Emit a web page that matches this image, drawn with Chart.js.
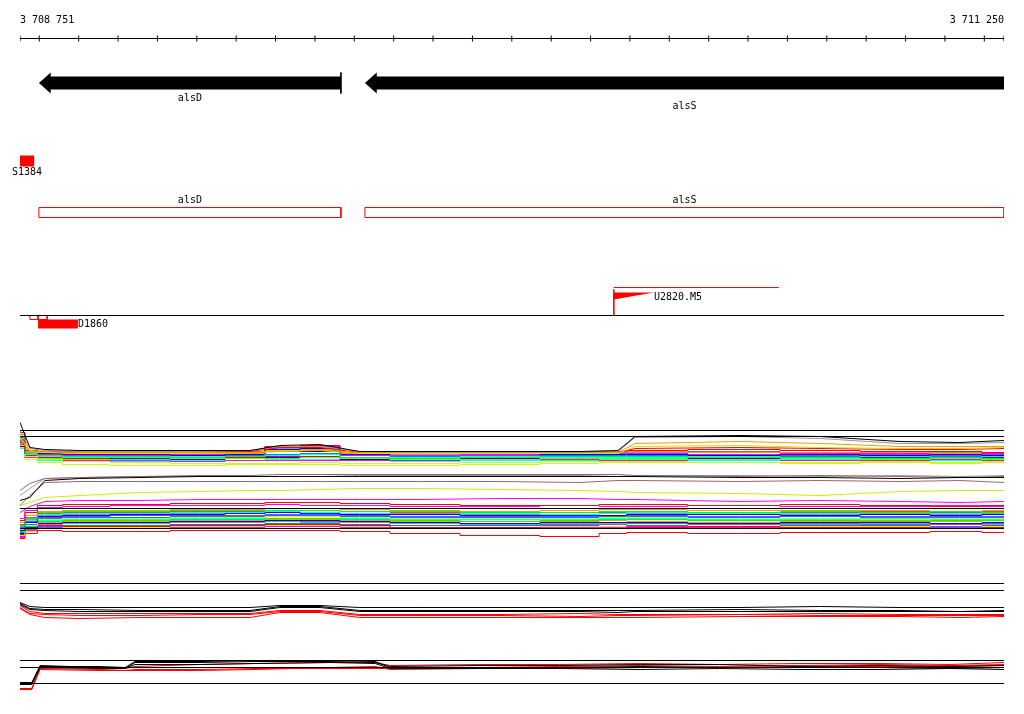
<!DOCTYPE html>
<html>
<head>
<meta charset="utf-8">
<script src="https://cdn.jsdelivr.net/npm/chart.js@4"></script>
<style>
  body { margin: 0; background: #fff; }
  canvas { display: block; }
</style>
</head>
<body>
<canvas id="browser" width="1024" height="714"></canvas>
<script>
// view window (bp)
const viewStart = 3708751;
const viewEnd = 3711250;
const rulerTicks = [3708751, 3708800, 3708900, 3709000, 3709100, 3709200, 3709300, 3709400, 3709500,
  3709600, 3709700, 3709800, 3709900, 3710000, 3710100, 3710200, 3710300, 3710400, 3710500,
  3710600, 3710700, 3710800, 3710900, 3711000, 3711100, 3711200, 3711250];

// genes (both on minus strand)
const geneNames = ['alsD', 'alsS'];
const geneStart = [3708799, 3709627];
const geneEnd = [3709566, 3711343];

// misc features
const siteName = 'S1384';
const siteRange = [3708751, 3708787];
const probeName = 'D1860';
const probeBoxes = [[3708776, 3708797], [3708797, 3708820]];
const probeBar = [3708797, 3708898];
const tuName = 'U2820.M5';
const tuStart = 3710259;
const tuEnd = 3710678;
const tuRampEnd = 3710361;

// expression tracks: probe positions
const gridA = [3708751, 3708776, 3708814, 3708903, 3709056, 3709208, 3709335, 3709411, 3709513, 3709614,
  3709767, 3709970, 3710173, 3710270, 3710313, 3710580, 3710783, 3710986, 3711138, 3711250];
const gridB = [3708751, 3708781, 3708802, 3708954, 3709018, 3709043, 3709208, 3709348, 3709538, 3709653,
  3709691, 3709919, 3710122, 3710326, 3710528, 3710732, 3710935, 3711113, 3711250];

// flat reference lines in the expression panels
const referenceRows = [430, 436, 508, 528, 583, 590, 660, 667, 683];

// panel 1 - highlighted profiles
const p1Black  = [422, 447, 449, 450, 450, 450, 450, 445, 444, 451, 451, 451, 451, 450, 436, 435, 436, 441, 442, 440];
const p1Grey   = [430, 448, 450, 451, 451, 451, 450, 446, 446, 451, 452, 452, 452, 451, 437, 436, 438, 443, 443, 442];
const p1Orange = [436, 450, 451, 452, 452, 452, 452, 451, 450, 452, 452, 452, 452, 452, 443, 441, 443, 446, 446, 446];
const p1Yellow = [438, 451, 452, 453, 453, 453, 452, 450, 450, 453, 453, 453, 453, 453, 446, 445, 447, 448, 448, 447];
const p1Red    = [440, 451, 451, 452, 452, 452, 451, 447, 447, 452, 452, 452, 452, 452, 448, 447, 448, 449, 449, 448];

// panel 1 - bulk profiles
const p1Colors = ['#ff0000', '#00ff00', '#0000ff', '#00ffff', '#ff00ff', '#ccff00', '#ff9900', '#996666', '#999999',
  '#0080ff', '#9933ff', '#66ff00', '#ff00ff', '#ccff00', '#ff0000', '#0000ff', '#00ffff', '#000000'];
const p1Mass = [
  [432, 450, 451, 451, 452, 451, 451, 446, 445, 452, 452, 451, 452, 451, 450, 449, 450, 451, 451, 452],
  [434, 453, 455, 456, 456, 457, 456, 451, 450, 457, 458, 457, 456, 456, 456, 457, 457, 458, 457, 458],
  [436, 453, 453, 454, 454, 455, 454, 449, 448, 454, 453, 453, 454, 454, 454, 455, 454, 455, 454, 455],
  [438, 454, 456, 457, 457, 456, 456, 455, 454, 457, 457, 456, 457, 457, 457, 456, 457, 456, 457, 456],
  [440, 453, 454, 455, 455, 454, 454, 447, 446, 455, 455, 455, 453, 453, 453, 454, 453, 453, 454, 453],
  [445, 456, 459, 461, 462, 463, 463, 463, 462, 463, 463, 462, 461, 461, 461, 462, 462, 461, 462, 461],
  [441, 451, 452, 453, 453, 453, 453, 450, 449, 453, 453, 452, 452, 451, 451, 452, 452, 452, 453, 452],
  [434, 451, 452, 452, 452, 452, 452, 446, 445, 452, 452, 452, 451, 451, 451, 451, 452, 452, 451, 452],
  [436, 452, 453, 453, 453, 452, 452, 448, 447, 453, 454, 453, 452, 452, 452, 452, 453, 452, 452, 453],
  [442, 453, 455, 456, 455, 456, 455, 454, 453, 455, 456, 455, 455, 455, 455, 455, 456, 455, 456, 455],
  [439, 452, 454, 454, 454, 455, 454, 450, 449, 454, 455, 454, 454, 453, 453, 454, 455, 454, 455, 454],
  [443, 456, 458, 459, 459, 458, 458, 458, 457, 458, 459, 459, 458, 458, 458, 459, 458, 459, 458, 459],
  [444, 457, 459, 460, 460, 461, 460, 460, 460, 460, 460, 459, 459, 460, 460, 459, 460, 460, 459, 460],
  [447, 459, 462, 464, 465, 465, 464, 464, 464, 465, 465, 464, 463, 462, 462, 462, 463, 462, 463, 462],
  [437, 455, 457, 458, 457, 458, 457, 456, 456, 457, 458, 457, 458, 457, 457, 456, 457, 458, 457, 458],
  [446, 456, 457, 458, 458, 459, 458, 457, 457, 459, 458, 458, 457, 457, 457, 458, 458, 457, 458, 457],
  [448, 457, 460, 461, 461, 460, 460, 459, 459, 460, 461, 460, 460, 459, 459, 460, 459, 460, 460, 460],
  [448, 450, 451, 451, 451, 451, 451, 451, 451, 452, 452, 452, 452, 452, 452, 452, 452, 452, 452, 452]
];

// panel 2 - highlighted profiles
const p2Black   = [500, 497, 480, 478, 477, 476, 476, 476, 476, 476, 476, 476, 476, 476, 476, 477, 477, 478, 477, 477];
const p2Brown   = [490, 483, 478, 477, 476, 475, 475, 474, 474, 474, 474, 474, 474, 474, 475, 476, 475, 476, 477, 476];
const p2Brown2  = [505, 495, 482, 481, 481, 481, 481, 481, 481, 481, 481, 481, 482, 480, 480, 481, 480, 481, 480, 482];
const p2Grey    = [495, 488, 478, 477, 476, 476, 476, 476, 476, 475, 475, 475, 475, 476, 475, 475, 476, 475, 476, 475];
const p2Yellow  = [505, 502, 497, 495, 492, 491, 490, 490, 489, 488, 488, 489, 490, 491, 492, 493, 495, 491, 490, 490];
const p2Magenta = [512, 506, 501, 500, 500, 499, 499, 499, 499, 499, 499, 498, 498, 499, 499, 501, 500, 501, 502, 501];

// panel 2 - bulk profiles
const p2Colors = ['#ff0000', '#00ff00', '#0000ff', '#00ffff', '#ff00ff', '#ccff00', '#ff9900', '#996666', '#999999',
  '#0080ff', '#9933ff', '#ff0000', '#00ff00', '#0000ff', '#00ffff', '#ff00ff', '#ff9900', '#ff0000',
  '#ccff00', '#999999', '#996666', '#0080ff', '#ff00ff'];
const p2Mass = [
  [520, 512, 505, 504, 504, 503, 503, 502, 502, 503, 504, 505, 505, 504, 504, 505, 504, 505, 506, 505],
  [525, 518, 512, 511, 511, 510, 510, 510, 510, 511, 511, 512, 512, 511, 511, 512, 511, 512, 511, 512],
  [530, 522, 516, 515, 514, 514, 513, 512, 513, 514, 514, 515, 515, 515, 514, 514, 515, 514, 515, 514],
  [528, 520, 514, 513, 513, 512, 512, 511, 512, 513, 514, 513, 514, 513, 512, 513, 513, 514, 513, 512],
  [518, 510, 507, 506, 505, 505, 505, 504, 505, 505, 506, 506, 505, 506, 506, 505, 506, 506, 505, 506],
  [535, 525, 519, 518, 518, 517, 517, 516, 516, 517, 518, 518, 518, 517, 517, 518, 518, 519, 518, 518],
  [522, 515, 511, 510, 510, 509, 509, 508, 508, 509, 510, 511, 510, 509, 509, 510, 510, 510, 511, 510],
  [524, 517, 513, 512, 512, 511, 511, 510, 510, 511, 512, 513, 512, 512, 511, 512, 512, 511, 512, 511],
  [526, 519, 515, 514, 513, 513, 513, 512, 512, 513, 513, 514, 514, 513, 513, 514, 514, 513, 514, 513],
  [532, 524, 518, 517, 517, 516, 516, 515, 515, 516, 517, 517, 517, 516, 516, 517, 516, 517, 516, 517],
  [527, 521, 517, 516, 515, 515, 515, 514, 514, 515, 516, 516, 516, 515, 515, 516, 515, 516, 517, 516],
  [534, 528, 525, 526, 526, 525, 525, 524, 524, 525, 527, 527, 528, 528, 527, 526, 527, 527, 528, 527],
  [531, 526, 521, 520, 520, 519, 519, 518, 518, 519, 520, 521, 520, 519, 519, 520, 520, 521, 520, 520],
  [533, 527, 523, 522, 522, 521, 521, 520, 520, 521, 522, 523, 522, 522, 522, 523, 522, 522, 523, 522],
  [529, 524, 520, 519, 519, 518, 518, 518, 518, 518, 519, 519, 519, 518, 518, 519, 519, 518, 519, 519],
  [536, 530, 527, 528, 528, 527, 527, 526, 526, 527, 528, 528, 527, 527, 526, 527, 528, 527, 527, 528],
  [530, 525, 522, 521, 521, 520, 520, 519, 519, 520, 521, 521, 521, 520, 521, 522, 521, 520, 521, 520],
  [538, 533, 530, 531, 531, 530, 530, 530, 530, 531, 533, 535, 536, 533, 532, 533, 532, 532, 531, 532],
  [536, 531, 528, 527, 527, 526, 526, 525, 525, 526, 527, 527, 526, 526, 526, 527, 526, 526, 527, 526],
  [532, 527, 524, 523, 523, 522, 522, 521, 522, 522, 523, 524, 523, 523, 522, 523, 524, 523, 523, 524],
  [534, 529, 523, 523, 522, 522, 522, 521, 521, 522, 523, 523, 524, 524, 523, 524, 523, 524, 524, 523],
  [535, 530, 526, 525, 525, 524, 524, 523, 523, 524, 525, 525, 525, 524, 525, 526, 525, 525, 526, 525],
  [537, 531, 524, 525, 526, 526, 526, 525, 525, 525, 527, 527, 528, 527, 528, 528, 528, 528, 527, 528]
];

// panel 3 (gridA)
const p3Colors = ['#000000', '#000000', '#000000', '#ff0000', '#ff0000', '#ff0000'];
const p3Lines = [
  [602, 606, 607, 607, 607, 607, 607, 605, 605, 607, 607, 607, 607, 607, 607, 607, 606, 607, 607, 607],
  [603, 608, 609, 609, 610, 610, 610, 606, 606, 610, 610, 610, 610, 610, 610, 609, 610, 610, 611, 610],
  [604, 609, 610, 611, 611, 611, 611, 607, 607, 611, 611, 611, 611, 612, 611, 611, 611, 611, 611, 611],
  [605, 611, 613, 613, 613, 613, 613, 610, 610, 614, 614, 614, 613, 614, 614, 614, 613, 614, 614, 614],
  [607, 613, 614, 615, 615, 614, 614, 611, 611, 615, 615, 615, 616, 615, 615, 614, 615, 615, 615, 615],
  [608, 614, 617, 618, 617, 617, 617, 612, 612, 617, 617, 617, 617, 617, 617, 616, 616, 616, 617, 616]
];

// panel 4 (gridB)
const p4Colors = ['#000000', '#000000', '#000000', '#ff0000', '#ff0000', '#ff0000'];
const p4Lines = [
  [683, 683, 666, 666, 667, 661, 661, 660, 660, 661, 667, 667, 667, 666, 667, 667, 667, 668, 667],
  [682, 682, 665, 667, 668, 662, 662, 661, 661, 662, 666, 665, 665, 664, 664, 666, 665, 666, 665],
  [684, 684, 667, 668, 668, 664, 664, 663, 662, 663, 668, 668, 668, 669, 668, 669, 669, 668, 669],
  [688, 688, 667, 667, 668, 666, 664, 663, 662, 662, 665, 664, 664, 663, 664, 663, 663, 664, 662],
  [689, 689, 668, 669, 670, 669, 669, 668, 668, 668, 668, 667, 666, 665, 666, 665, 664, 665, 664],
  [688, 688, 669, 670, 670, 670, 670, 669, 667, 666, 669, 668, 668, 667, 667, 666, 666, 666, 665]
];

// ---- layout (rows in canvas units) ----
const ROW = {
  ruler: 38, rulerText: 20,
  geneMid: 82.5, geneHalf: 6.5, headHalf: 10.5, headLen: 30,
  geneLabel: [98, 106],
  siteTop: 155, siteBottom: 166, siteLabel: 172,
  boxTop: 207, boxBottom: 217, boxLabel: 200,
  tuLine: 287, tuRampTop: 292, tuRampBottom: 299, featureLine: 315,
  probeBoxBottom: 319, probeBarBottom: 328, probeLabel: 324
};

const pts = (vals, grid) => vals.map((v, i) => ({x: grid[i], y: v}));
const rect = (x0, x1, y0, y1) => [{x: x0, y: y0}, {x: x1, y: y0}, {x: x1, y: y1}, {x: x0, y: y1}, {x: x0, y: y0}];
const clampEnd = v => Math.min(v, viewEnd);
const fmt = n => String(n).replace(/\B(?=(\d{3})+(?!\d))/g, ' ');

const datasets = [];
const line = (data, color, extra) => datasets.push(Object.assign({
  data, borderColor: color, backgroundColor: color, borderWidth: 1, pointRadius: 0, fill: false, tension: 0
}, extra || {}));

// ruler
line([{x: viewStart, y: ROW.ruler}, {x: viewEnd, y: ROW.ruler}], '#000');
line(rulerTicks.map(t => ({x: t, y: ROW.ruler})), '#000', {showLine: false, pointStyle: 'line', pointRadius: 3, rotation: 90, pointBorderWidth: 1});

// gene arrows (minus strand: tip at start)
geneNames.forEach((g, i) => {
  const s = geneStart[i], e = geneEnd[i], m = ROW.geneMid, h = ROW.geneHalf, hh = ROW.headHalf, hl = s + ROW.headLen;
  line([{x: s, y: m}, {x: hl, y: m - hh}, {x: hl, y: m - h}, {x: e, y: m - h}, {x: e, y: m + h},
        {x: hl, y: m + h}, {x: hl, y: m + hh}, {x: s, y: m}], '#000', {fill: 'shape', borderWidth: 0});
  line([{x: e, y: m - hh}, {x: e, y: m + hh}], '#000');
  // gene boxes
  line(rect(s, clampEnd(e), ROW.boxTop, ROW.boxBottom), '#ff0000');
});

// site
line(rect(siteRange[0], siteRange[1], ROW.siteTop, ROW.siteBottom), '#ff0000', {fill: 'shape', borderWidth: 0});

// transcription unit
line([{x: tuStart, y: ROW.tuLine}, {x: tuEnd, y: ROW.tuLine}], '#ff0000');
line([{x: tuStart, y: ROW.tuLine + 2}, {x: tuStart, y: ROW.featureLine}], '#ff0000');
line([{x: tuStart, y: ROW.tuRampTop}, {x: tuRampEnd, y: ROW.tuRampTop}, {x: tuStart, y: ROW.tuRampBottom}, {x: tuStart, y: ROW.tuRampTop}],
  '#ff0000', {fill: 'shape', borderWidth: 0});

// feature baseline + probes
line([{x: viewStart, y: ROW.featureLine}, {x: viewEnd, y: ROW.featureLine}], '#000');
probeBoxes.forEach(b => line(rect(b[0], b[1], ROW.featureLine, ROW.probeBoxBottom), '#ff0000'));
line(rect(probeBar[0], probeBar[1], ROW.probeBoxBottom, ROW.probeBarBottom), '#ff0000', {fill: 'shape', borderWidth: 0});

// reference lines
referenceRows.forEach(r => line([{x: viewStart, y: r}, {x: viewEnd, y: r}], '#000'));

// panel 1
line(pts(p1Black, gridA), '#000');
line(pts(p1Grey, gridA), '#999999');
line(pts(p1Orange, gridA), '#ff9900');
line(pts(p1Yellow, gridA), '#dddd00');
line(pts(p1Red, gridA), '#ff0000');
p1Mass.forEach((v, i) => line(pts(v, gridA), p1Colors[i], {stepped: 'middle'}));

// panel 2
line(pts(p2Black, gridA), '#000');
line(pts(p2Brown, gridA), '#996666');
line(pts(p2Brown2, gridA), '#996666');
line(pts(p2Grey, gridA), '#999999');
line(pts(p2Yellow, gridA), '#ccee00');
line(pts(p2Magenta, gridA), '#ff00ff');
p2Mass.forEach((v, i) => line(pts(v, gridA), p2Colors[i], {stepped: 'middle'}));

// panels 3 and 4
p3Lines.forEach((v, i) => line(pts(v, gridA), p3Colors[i]));
p4Lines.forEach((v, i) => line(pts(v, gridB), p4Colors[i]));

// text labels
const labels = [
  {text: fmt(viewStart), x: viewStart, y: ROW.rulerText, align: 'left'},
  {text: fmt(viewEnd), x: viewEnd, y: ROW.rulerText, align: 'right'},
  {text: siteName, x: (siteRange[0] + siteRange[1]) / 2, y: ROW.siteLabel, align: 'center'},
  {text: probeName, x: probeBar[1], y: ROW.probeLabel, align: 'left'},
  {text: tuName, x: tuRampEnd, y: ROW.tuRampTop + 5, align: 'left'}
];
geneNames.forEach((g, i) => {
  const c = (geneStart[i] + clampEnd(geneEnd[i])) / 2;
  labels.push({text: g, x: c, y: ROW.geneLabel[i], align: 'center'});
  labels.push({text: g, x: c, y: ROW.boxLabel, align: 'center'});
});

const labelPlugin = {
  id: 'trackLabels',
  afterDatasetsDraw(chart) {
    const {ctx, scales: {x, y}} = chart;
    ctx.save();
    ctx.font = '10px "DejaVu Sans Mono"';
    ctx.fillStyle = '#000';
    ctx.textBaseline = 'middle';
    labels.forEach(l => {
      ctx.textAlign = l.align;
      ctx.fillText(l.text, x.getPixelForValue(l.x), y.getPixelForValue(l.y));
    });
    ctx.restore();
  }
};

new Chart(document.getElementById('browser').getContext('2d'), {
  type: 'line',
  data: {datasets},
  options: {
    responsive: false,
    animation: false,
    devicePixelRatio: 1,
    layout: {autoPadding: false, padding: {left: 20, right: 20, top: 0, bottom: 0}},
    scales: {
      x: {type: 'linear', min: viewStart, max: viewEnd, display: false},
      y: {type: 'linear', min: -0.5, max: 713.5, reverse: true, display: false}
    },
    plugins: {legend: {display: false}, tooltip: {enabled: false}}
  },
  plugins: [labelPlugin]
});
</script>
</body>
</html>
